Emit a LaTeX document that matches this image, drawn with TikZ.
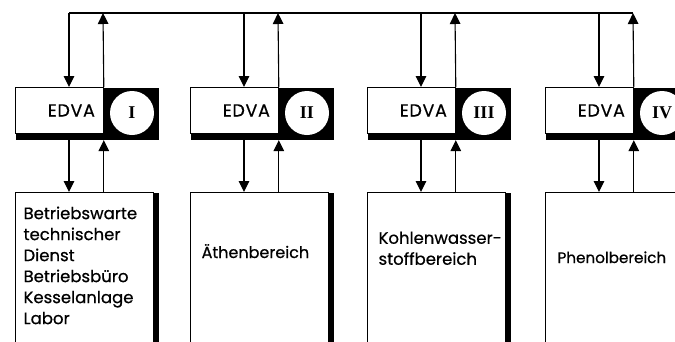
\documentclass[tikz,border=0pt]{standalone}
\usepackage{fontspec}
\setmainfont{Poppins}[FakeBold=0.6]
\newfontfamily\numfont{Liberation Serif}
\usetikzlibrary{arrows.meta, calc}

\begin{document}
\begin{tikzpicture}[x=1pt, y=-1pt,
    line width=1.1pt,
    arr/.style={-{Triangle[length=11pt, width=10.5pt]}},
    block/.style={fill=black, anchor=north west, inner sep=0pt, minimum width=143pt, minimum height=52pt},
    edva/.style={draw, fill=white, line width=0.8pt, anchor=north west, inner sep=0pt, minimum width=88pt, minimum height=46pt, text width=71pt, align=right, font=\addfontfeatures{LetterSpace=4}\fontsize{17.5}{18}\selectfont},
    numcirc/.style={circle, fill=white, inner sep=0pt, minimum size=44pt, font=\numfont\bfseries\fontsize{18}{18}\selectfont},
    shade/.style={fill=black, anchor=north west, inner sep=0pt, minimum width=143pt, minimum height=170pt},
    area/.style={draw, fill=white, line width=0.8pt, anchor=north west, inner sep=0pt, minimum width=138pt, minimum height=170pt},
    areatext/.style={inner sep=0pt, align=left, font=\fontsize{16.5}{21}\selectfont}
]
\useasboundingbox (0,0) rectangle (675,341);
\clip (0,0) rectangle (675,341);
% one EDVA module per plant area
\foreach \x/\n/\r in {15/1/I, 190/2/II, 367/3/III, 545/4/IV} {
  \node[block] (block\n) at (\x,87) {};
  \node[edva] (edva\n) at (\x,87) {EDVA};
  \node[numcirc] (num\n) at (\x+117,113) {\r};
  \node[shade] (shade\n) at (\x,192) {};
  \node[area] (area\n) at (\x,192) {};
  \coordinate (bus\n) at (\x+54,13);
  \coordinate (busup\n) at (\x+88,13);
  % links to the common bus
  \draw[arr] (bus\n) -- (bus\n |- edva\n.north);
  \draw[arr] (edva\n.north east) -- (busup\n);
  % links to the plant area
  \draw[arr] (bus\n |- block\n.south) -- (bus\n |- area\n.north);
  \draw[arr] (edva\n.east |- area\n.north) -- (edva\n.east |- block\n.south);
}
% common bus
\draw (bus1) -- (busup4);
% plant areas
\node[areatext, anchor=north west] (txt1) at ($(area1.north west)+(8,14)$) {Betriebswarte\\technischer\\Dienst\\Betriebsbüro\\Kesselanlage\\Labor};
\node[areatext, anchor=base, font=\fontsize{16}{21}\selectfont] (txt2) at ($(area2.north)+(-4,66)$) {Äthenbereich};
\node[areatext, anchor=north west] (txt3) at ($(area3.north west)+(11,39)$) {Kohlenwasser-\\stoffbereich};
\node[areatext, anchor=base west, font=\fontsize{15.2}{21}\selectfont] (txt4) at ($(area4.north west)+(12,71)$) {Phenolbereich};
\end{tikzpicture}
\end{document}
